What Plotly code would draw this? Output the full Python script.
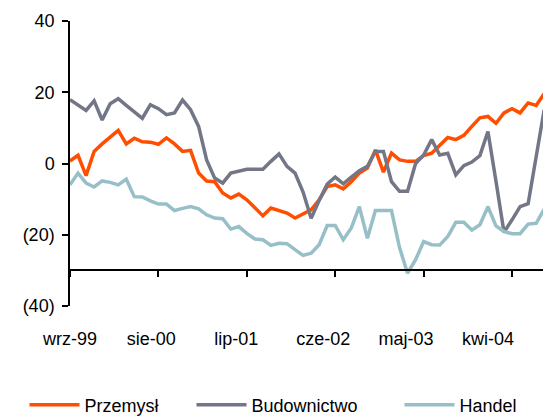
import plotly.graph_objects as go

# Monthly categories: wrz-99 (Sep 1999) .. sie-04 (Aug 2004)
month_abbr = ["sty", "lut", "mar", "kwi", "maj", "cze", "lip", "sie", "wrz", "paź", "lis", "gru"]
categories = [f"{month_abbr[(8 + k) % 12]}-{(1999 + (8 + k) // 12) % 100:02d}" for k in range(60)]

przemysl = [0.7, 2.3, -3.4, 3.4, 5.5, 7.3, 9.3, 5.5, 7.1, 6.1,
            6.0, 5.4, 7.2, 5.5, 3.4, 3.7, -2.7, -4.9, -5.1, -8.3,
            -9.7, -8.6, -10.2, -12.4, -14.7, -12.5, -13.3, -13.9, -15.3, -14.2,
            -13.0, -10.2, -6.5, -6.0, -7.1, -5.1, -2.7, -1.3, 3.8, -2.4,
            2.9, 1.0, 0.6, 0.6, 2.2, 2.9, 5.0, 7.3, 6.7, 7.9,
            10.4, 12.8, 13.2, 11.3, 14.2, 15.4, 14.2, 17.0, 16.3, 19.6]

budownictwo = [17.9, 16.3, 14.9, 17.6, 12.2, 16.8, 18.2, 16.3, 14.5, 12.7,
               16.5, 15.4, 13.7, 14.2, 17.8, 15.1, 10.4, 1.0, -4.1, -5.5,
               -2.7, -2.1, -1.6, -1.6, -1.6, 0.6, 2.7, -0.8, -2.7, -8.0,
               -15.4, -10.4, -5.8, -3.8, -5.7, -3.8, -2.0, -0.8, 3.4, 3.4,
               -5.1, -7.8, -7.8, 0.0, 2.4, 6.7, 2.4, 2.9, -3.2, -0.6,
               0.4, 2.2, 9.0, -5.0, -19.3, -15.8, -12.1, -11.3, 2.5, 15.1]

handel = [-6.0, -2.7, -5.5, -6.6, -4.9, -5.3, -6.0, -4.4, -9.3, -9.4,
          -10.5, -11.4, -11.4, -13.2, -12.6, -12.1, -12.7, -14.4, -15.3, -15.5,
          -18.4, -17.7, -19.6, -21.2, -21.4, -23.0, -22.4, -22.5, -24.2, -25.8,
          -25.2, -22.8, -17.4, -17.4, -21.4, -18.1, -12.1, -21.0, -13.2, -13.2,
          -13.2, -23.6, -30.8, -27.0, -21.9, -22.8, -22.9, -20.5, -16.5, -16.5,
          -18.7, -17.2, -12.1, -17.5, -19.1, -19.7, -19.7, -17.0, -16.8, -12.8]

x_tick_labels = ["wrz-99", "sie-00", "lip-01", "cze-02", "maj-03", "kwi-04"]
x_label_pos = [0, 10.1, 20.7, 31.5, 41.8, 52.0]
x_tick_pos = [0, 11, 22, 33, 44, 55]
y_tick_vals = [-40, -20, 0, 20, 40]
y_tick_text = ["(40)", "(20)", "0", "20", "40"]

FONT = "Arial, 'Liberation Sans', sans-serif"
xs = list(range(len(categories)))
xrange_ = [0, 59.1]

fig = go.Figure()
series = [("Przemysł", przemysl, "#FF4E00", "legend"),
          ("Budownictwo", budownictwo, "#737687", "legend2"),
          ("Handel", handel, "#97BFC8", "legend3")]
for name, vals, col, lg in series:
    fig.add_trace(go.Scatter(x=xs, y=vals, mode="lines", name=name, legend=lg,
                             line=dict(color=col, width=3.5),
                             text=categories, hovertemplate="%{text}: %{y}<extra>" + name + "</extra>"))

# The page body adds an 8px offset, so the figure is sized and its margins
# chosen so the plot area lands where the reference's does.
W, H = 543, 409
legend_common = dict(orientation="h", xref="container", yref="container",
                     y=(H - 397) / H, xanchor="left", yanchor="middle",
                     font=dict(size=18), itemwidth=50, bgcolor="rgba(0,0,0,0)")

fig.update_layout(
    width=W, height=H,
    margin=dict(l=62, r=6, t=13, b=H - 298, autoexpand=False),
    paper_bgcolor="white", plot_bgcolor="white",
    font=dict(family=FONT, size=18, color="black"),
    showlegend=True,
    legend=dict(x=16.5 / W, **legend_common),
    legend2=dict(x=183.5 / W, **legend_common),
    legend3=dict(x=391.5 / W, **legend_common),
    xaxis=dict(range=xrange_, showline=False, showgrid=False, zeroline=False,
               tickmode="array", tickvals=x_label_pos, ticktext=x_tick_labels,
               ticks="", ticklabelstandoff=20, automargin=False),
    xaxis2=dict(range=xrange_, overlaying="x", anchor="free", position=0.125,
                showline=True, linecolor="black", linewidth=1.5,
                showgrid=False, zeroline=False, automargin=False,
                tickmode="array", tickvals=x_tick_pos, ticks="outside",
                ticklen=6, tickwidth=1.5, tickcolor="black", showticklabels=False),
    yaxis=dict(range=[-40, 40], showline=True, linecolor="black", linewidth=1.5,
               showgrid=False, zeroline=False, automargin=False,
               tickmode="array", tickvals=y_tick_vals, ticktext=y_tick_text,
               ticks="outside", ticklen=6, tickwidth=1.5, tickcolor="black",
               ticklabelstandoff=4),
)
# invisible trace to activate xaxis2
fig.add_trace(go.Scatter(x=[None], y=[None], xaxis="x2", showlegend=False, hoverinfo="skip"))

fig.write_html("out.html")
